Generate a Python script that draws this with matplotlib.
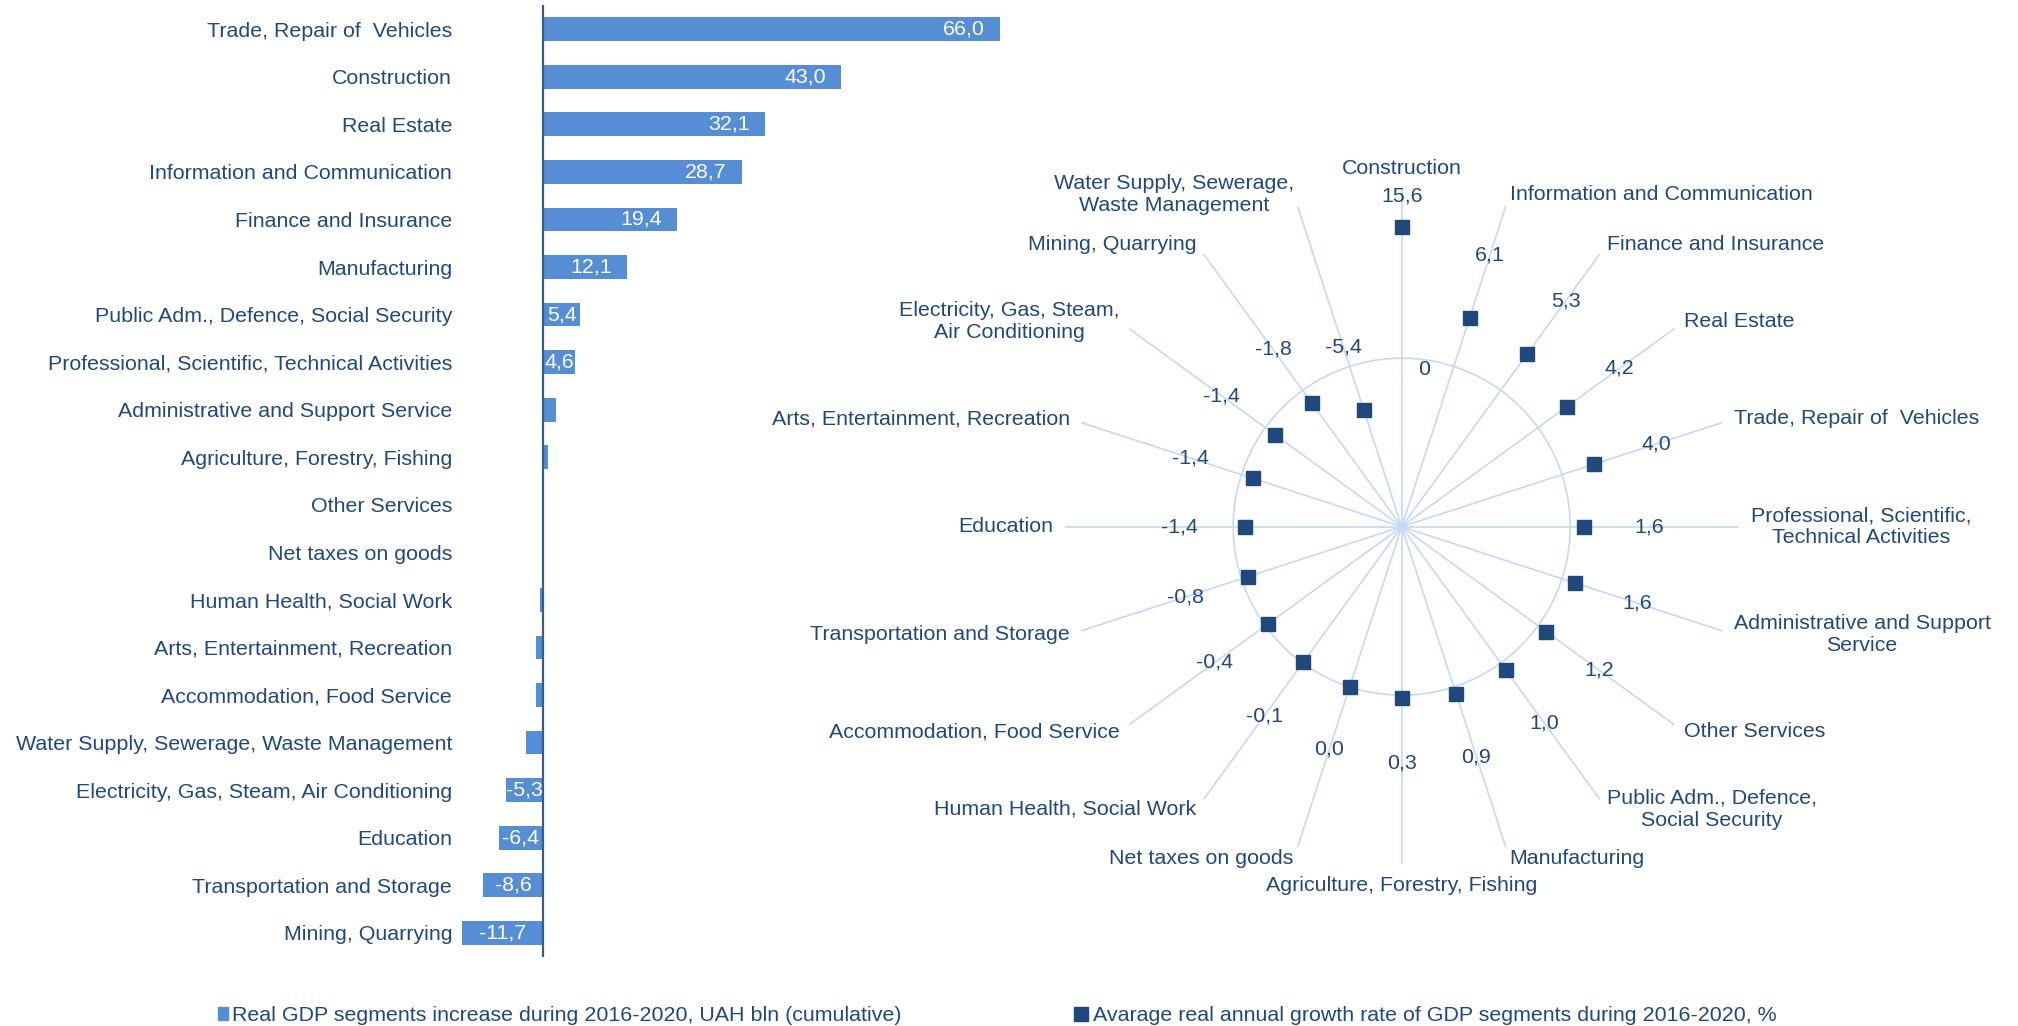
import numpy as np
import matplotlib
matplotlib.use("Agg")
import matplotlib.pyplot as plt
from matplotlib.patches import Patch
from matplotlib.lines import Line2D

plt.rcParams['font.family'] = ['Liberation Sans', 'DejaVu Sans']

# Left chart: cumulative real GDP increase 2016-2020, UAH bln (top to bottom)
bar_labels = ['Trade, Repair of  Vehicles', 'Construction', 'Real Estate',
              'Information and Communication', 'Finance and Insurance', 'Manufacturing',
              'Public Adm., Defence, Social Security',
              'Professional, Scientific, Technical Activities',
              'Administrative and Support Service', 'Agriculture, Forestry, Fishing',
              'Other Services', 'Net taxes on goods', 'Human Health, Social Work',
              'Arts, Entertainment, Recreation', 'Accommodation, Food Service',
              'Water Supply, Sewerage, Waste Management',
              'Electricity, Gas, Steam, Air Conditioning', 'Education',
              'Transportation and Storage', 'Mining, Quarrying']
bar_values = [66.0, 43.0, 32.1, 28.7, 19.4, 12.1, 5.4, 4.6, 1.9, 0.7,
              0.2, -0.1, -0.4, -1.0, -1.0, -2.5, -5.3, -6.4, -8.6, -11.7]

# Right chart: average real annual growth rate, % (clockwise from top)
radar_labels = ['Construction', 'Information and Communication', 'Finance and Insurance',
                'Real Estate', 'Trade, Repair of  Vehicles',
                'Professional, Scientific,\nTechnical Activities',
                'Administrative and Support\nService', 'Other Services',
                'Public Adm., Defence,\nSocial Security', 'Manufacturing',
                'Agriculture, Forestry, Fishing', 'Net taxes on goods',
                'Human Health, Social Work', 'Accommodation, Food Service',
                'Transportation and Storage', 'Education',
                'Arts, Entertainment, Recreation', 'Electricity, Gas, Steam,\nAir Conditioning',
                'Mining, Quarrying', 'Water Supply, Sewerage,\nWaste Management']
radar_values = [15.6, 6.1, 5.3, 4.2, 4.0, 1.6, 1.6, 1.2, 1.0, 0.9,
                0.3, 0.0, -0.1, -0.4, -0.8, -1.4, -1.4, -1.4, -1.8, -5.4]

legend_bar = 'Real GDP segments increase during 2016-2020, UAH bln (cumulative)'
legend_radar = 'Avarage real annual growth rate of GDP segments during 2016-2020, %'

BAR_C = '#558ED5'
DARK = '#1F497D'
SPOKE = '#C6D9F1'
FS = 15.4

W, H = 2018, 1026
fig = plt.figure(figsize=(W / 100, H / 100), dpi=100)

def px_axes(x0, y0, x1, y1, **kw):
    return fig.add_axes([x0 / W, 1 - y1 / H, (x1 - x0) / W, (y1 - y0) / H], **kw)

# ---- bar chart ----
ax = px_axes(455, 5.5, 1010, 956.5)
n = len(bar_values)
y = np.arange(n)
ax.barh(y, bar_values, height=0.5, color=BAR_C)
ax.set_ylim(n - 0.5, -0.5)
ppu = 6.93  # px per unit
ax.set_xlim(-(543 - 455) / ppu, (1010 - 543) / ppu)
ax.axvline(0, color='#385D8A', lw=1.6)
for s in ax.spines.values():
    s.set_visible(False)
ax.set_xticks([])
ax.set_yticks(y)
ax.set_yticklabels(bar_labels, fontsize=FS, color=DARK)
ax.tick_params(axis='y', length=0, pad=2)

for yi, v in zip(y, bar_values):
    if abs(v) < 3:
        continue
    txt = f"{v:.1f}".replace('.', ',')
    if v >= 10:
        ax.annotate(txt, (v, yi), xytext=(-11, 0), textcoords='offset points',
                    ha='right', va='center', color='white', fontsize=FS)
    else:
        ax.text(v / 2, yi, txt, ha='center', va='center', color='white', fontsize=FS)

# ---- radar chart ----
cx, cy, R = 1401.7, 526.7, 337
rax = px_axes(cx - R, cy - R, cx + R, cy + R, projection='polar')
rax.set_theta_zero_location('N')
rax.set_theta_direction(-1)
rax.set_ylim(-20, 20)
rax.set_axis_off()

m = len(radar_values)
theta = np.arange(m) * 2 * np.pi / m
for t in theta:
    rax.plot([t, t], [-20, 20], color=SPOKE, lw=1.2, zorder=1)
ring = np.linspace(0, 2 * np.pi, 361)
rax.plot(ring, np.zeros_like(ring), color=SPOKE, lw=1.2, zorder=1)
rax.annotate('0', (0, 0), xytext=(11.5, -8), textcoords='offset points',
             ha='left', va='center', fontsize=FS, color=DARK)

rax.plot(theta, radar_values, 's', ms=10, color=DARK, linestyle='none', zorder=3,
         clip_on=False)

for t, v in zip(theta, radar_values):
    r = min(v + 7.8, 19.3)
    rax.text(t, r, f"{v:.1f}".replace('.', ','), ha='center', va='center',
             fontsize=FS, color=DARK, clip_on=False)

pad = 8.6
for t, lab in zip(theta, radar_labels):
    s, c = np.sin(t), np.cos(t)
    ha = 'left' if s > 0.01 else ('right' if s < -0.01 else 'center')
    va = 'bottom' if c > 0.99 else ('top' if c < -0.99 else 'center')
    rax.annotate(lab, (t, 20), xytext=(pad * s, pad * c), textcoords='offset points',
                 ha=ha, va=va, multialignment='center', fontsize=FS, color=DARK,
                 annotation_clip=False)

# ---- legends ----
fig.legend(handles=[Patch(color=BAR_C, label=legend_bar)], loc='center left',
           bbox_to_anchor=(218 / W, 1 - 1015.5 / H), frameon=False, fontsize=FS,
           handlelength=0.45, handleheight=0.5, handletextpad=0.22,
           borderpad=0, borderaxespad=0, labelcolor=DARK)
fig.legend(handles=[Line2D([], [], marker='s', ms=10, color=DARK, linestyle='none',
                           label=legend_radar)], loc='center left',
           bbox_to_anchor=(1074 / W, 1 - 1015.5 / H), frameon=False, fontsize=FS,
           handlelength=0.7, handletextpad=0.2, borderpad=0, borderaxespad=0,
           labelcolor=DARK)

fig.savefig('out.png', dpi=100)
